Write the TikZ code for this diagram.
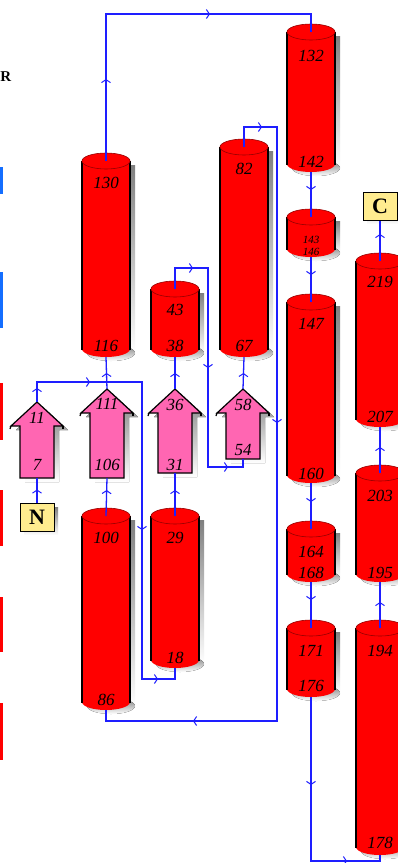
\documentclass[tikz,border=0pt]{standalone}
\usepackage{fontspec}
\setmainfont{Liberation Serif}
\usetikzlibrary{arrows.meta,decorations.markings}

\definecolor{helixred}{RGB}{255,0,0}
\definecolor{helixedge}{RGB}{150,0,0}
\definecolor{strandpink}{RGB}{255,102,178}
\definecolor{linkblue}{RGB}{30,30,255}
\definecolor{termfill}{RGB}{255,236,143}
\definecolor{barblue}{RGB}{20,110,255}
\definecolor{shade}{RGB}{190,190,190}

\tikzset{
  link/.style={draw=linkblue, line width=1.3pt},
  arr at/.style={postaction={decorate,decoration={markings,
     mark=at position #1 with {\arrow[linkblue,line width=1pt]{Straight Barb[length=3pt,width=9pt]}}}}},
  numlab/.style={font=\fontsize{17}{17}\selectfont\itshape, inner sep=0pt},
  smalllab/.style={font=\fontsize{11}{11}\selectfont\itshape, inner sep=0pt},
  term/.style={draw=black, fill=termfill, line width=1pt, minimum width=34pt,
    minimum height=28pt, inner sep=0pt, font=\fontsize{22}{22}\selectfont\bfseries},
  ghost/.style={inner sep=0pt, outer sep=0pt},
}

% helix: name, x centre, y top, y bottom, top label, its y, bottom label, its y, label style
\newcommand\helix[9]{%
  \fill[shade] ({#2-19},{#3+12}) rectangle ({#2+29},{#4-4});
  \fill[shade] ({#2+5},{#4-4}) ellipse [x radius=24pt, y radius=8pt];
  \fill[helixred] ({#2-24},{#3+8}) rectangle ({#2+24},{#4-8});
  \fill[helixred] (#2,{#4-8}) ellipse [x radius=24pt, y radius=8pt];
  \draw[line width=1.5pt] ({#2-24},{#3+8}) -- ({#2-24},{#4-7});
  \draw[line width=1.3pt] ({#2+24},{#3+8}) -- ({#2+24},{#4-7});
  \filldraw[fill=helixred, draw=helixedge, line width=0.6pt] (#2,{#3+8}) ellipse [x radius=24pt, y radius=8pt];
  \node[ghost, minimum width=48pt, minimum height={(#4-#3)*1pt}] (#1) at (#2,{(#3+#4)/2}) {};
  \coordinate (#1-top) at (#2,{#3+8});
  \node[#9] (#1-lt) at (#2,#6) {#5};
  \node[#9] (#1-lb) at (#2,#8) {#7};
}

% strand: name, x centre, y tip, y bottom, top label, its y, bottom label, its y
\newcommand\strand[8]{%
  \fill[shade, shift={(5,4)}] (#2,#3) -- ({#2+26},{#3+24}) -- ({#2+17},{#3+24})
     -- ({#2+17},#4) -- ({#2-17},#4) -- ({#2-17},{#3+24}) -- ({#2-26},{#3+24}) -- cycle;
  \filldraw[fill=strandpink, draw=black, line width=1.2pt, line join=miter]
     (#2,#3) -- ({#2+26},{#3+24}) -- ({#2+17},{#3+24})
     -- ({#2+17},#4) -- ({#2-17},#4) -- ({#2-17},{#3+24}) -- ({#2-26},{#3+24}) -- cycle;
  \draw[line width=1.2pt] ({#2-26},{#3+24}) -- ({#2-27},{#3+27});
  \draw[line width=1.2pt] ({#2+26},{#3+24}) -- ({#2+26},{#3+27});
  \node[ghost, minimum width=52pt, minimum height={(#4-#3)*1pt}] (#1) at (#2,{(#3+#4)/2}) {};
  \node[numlab] (#1-lt) at (#2,#6) {#5};
  \node[numlab] (#1-lb) at (#2,#8) {#7};
}

\begin{document}
\begin{tikzpicture}[x=1pt, y=-1pt]
\fill[white] (0,0) rectangle (397,863);
\useasboundingbox (0,0) rectangle (397,863);

% margin marks at the left edge
\node[font=\fontsize{15}{15}\selectfont\bfseries, inner sep=0pt, anchor=west] (rmark) at (0.3,77) {R};
\fill[barblue] (0,167) rectangle (3,194);
\fill[barblue] (0,272) rectangle (3,328);
\fill[helixred] (0,383) rectangle (3,440);
\fill[helixred] (0,490) rectangle (3,546);
\fill[helixred] (0,597) rectangle (3,652);
\fill[helixred] (0,703) rectangle (3,760);

% helices
\helix{h116}{106}{153}{357}{130}{183}{116}{346}{numlab}
\helix{h38}{175}{281}{357}{43}{310}{38}{346}{numlab}
\helix{h67}{244}{139}{357}{82}{169}{67}{346}{numlab}
\helix{h132}{311}{24}{172}{132}{56}{142}{162}{numlab}
\helix{h143}{311}{209}{257}{143}{240}{146}{252}{smalllab}
\helix{h147}{311}{294}{483}{147}{324}{160}{474}{numlab}
\helix{h164}{311}{521}{582}{164}{552}{168}{573}{numlab}
\helix{h171}{311}{620}{697}{171}{651}{176}{686}{numlab}
\helix{h207}{380}{253}{427}{219}{282}{207}{417}{numlab}
\helix{h195}{380}{465}{582}{203}{496}{195}{573}{numlab}
\helix{h178}{380}{620}{855}{194}{651}{178}{843}{numlab}
\helix{h86}{106}{508}{710}{100}{538}{86}{700}{numlab}
\helix{h18}{175}{508}{668}{29}{538}{18}{658}{numlab}

% strands
\strand{s7}{37}{402}{478}{11}{418}{7}{465}
\strand{s106}{107}{389}{478}{111}{404}{106}{465}
\strand{s31}{175}{389}{473}{36}{405}{31}{465}
\strand{s54}{243}{389}{459}{58}{405}{54}{450}

% termini
\fill[shade] (24,507) rectangle (58,535);
\node[term] (N) at (37,517) {N};
\fill[shade] (367,196) rectangle (401,224);
\node[term] (C) at (380,206) {C};

% chain connections
\draw[link, arr at=13pt] (N.north) -- (s7.south);
\draw[link, arr at=14pt, arr at=73pt, arr at=273pt, arr at=438pt]
  (s7.north) -- (37,382) -- (142,382) -- (142,679) -- (175,679) -- (h18.south);
\draw[link, arr at=26pt] (h18-top) -- (s31.south);
\draw[link, arr at=16pt] (s31.north) -- (h38.south);
\draw[link, arr at=39pt, arr at=154pt, arr at=273pt]
  (h38-top) -- (175,268) -- (208,268) -- (208,467) -- (243,467) -- (s54.south);
\draw[link, arr at=16pt] (s54.north) -- (h67.south);
\draw[link, arr at=38pt, arr at=349pt, arr at=731pt]
  (h67-top) -- (244,127) -- (277,127) -- (277,721) -- (106,721) -- (h86.south);
\draw[link, arr at=26pt] (h86-top) -- (s106.south);
\draw[link, arr at=16pt] (s106.north) -- (h116.south);
\draw[link, arr at=82pt, arr at=251pt]
  (h116-top) -- (106,14) -- (311,14) -- (h132-top);
\draw[link, arr at=18pt] (h132.south) -- (h143-top);
\draw[link, arr at=18pt] (h143.south) -- (h147-top);
\draw[link, arr at=19pt] (h147.south) -- (h164-top);
\draw[link, arr at=18pt] (h164.south) -- (h171-top);
\draw[link, arr at=88pt, arr at=200pt]
  (h171.south) -- (311,861) -- (380,861) -- (h178.south);
\draw[link, arr at=26pt] (h178-top) -- (h195.south);
\draw[link, arr at=26pt] (h195-top) -- (h207.south);
\draw[link, arr at=27pt] (h207-top) -- (C.south);
\end{tikzpicture}
\end{document}
